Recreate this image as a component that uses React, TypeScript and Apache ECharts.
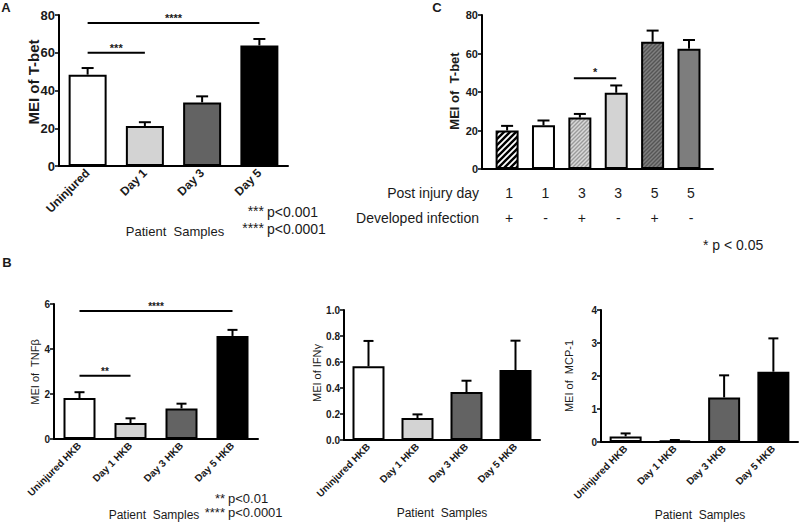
import React, { useEffect, useRef } from 'react';
import * as echarts from 'echarts';

// ---------- data ----------
const catsA = ['Uninjured', 'Day 1', 'Day 3', 'Day 5'];
const meanA = [48.4, 21.2, 33.7, 63.9];
const errA = [51.9, 23.2, 36.9, 67.3];
const sigA = [
  { from: 0, to: 1, y: 60, label: '***' },
  { from: 0, to: 3, y: 75.8, label: '****' },
];

const dayC = ['1', '1', '3', '3', '5', '5'];
const infC = ['+', '-', '+', '-', '+', '-'];
const meanC = [20.0, 22.7, 26.7, 39.6, 66.1, 62.5];
const errC = [22.4, 25.2, 28.6, 43.4, 71.9, 67.0];
const sigC = [{ from: 2, to: 3, y: 47.2, label: '*' }];

const catsB = ['Uninjured HKB', 'Day 1 HKB', 'Day 3 HKB', 'Day 5 HKB'];
const meanTNF = [1.82, 0.71, 1.36, 4.58];
const errTNF = [2.08, 0.92, 1.57, 4.85];
const sigTNF = [
  { from: 0, to: 1, y: 2.81, label: '**' },
  { from: 0, to: 3, y: 5.69, label: '****' },
];
const meanIFN = [0.567, 0.169, 0.369, 0.538];
const errIFN = [0.762, 0.197, 0.456, 0.764];
const meanMCP = [0.17, 0.04, 1.35, 2.13];
const errMCP = [0.26, 0.06, 2.02, 3.14];

// ---------- styles ----------
const FONT = '"Liberation Sans", Arial, Helvetica, sans-serif';
const TXT = '#1a1a1a';
const fillsABC = ['#ffffff', '#d3d3d3', '#636363', '#000000'];
// C: [background, stripe colour or null, tile size, stripe width]
const styleC: [string, string | null, number, number][] = [
  ['#ffffff', '#000000', 6, 2.4],
  ['#ffffff', null, 0, 0],
  ['#d8d8d8', '#9a9a9a', 4, 1.4],
  ['#d3d3d3', null, 0, 0],
  ['#808080', '#555555', 4, 1.4],
  ['#7d7d7d', null, 0, 0],
];

function hatch(bg: string, fg: string, s: number, w: number) {
  const c = document.createElement('canvas');
  c.width = s;
  c.height = s;
  const ctx = c.getContext('2d')!;
  ctx.fillStyle = bg;
  ctx.fillRect(0, 0, s, s);
  ctx.strokeStyle = fg;
  ctx.lineWidth = w;
  ctx.lineCap = 'square';
  ctx.beginPath();
  ctx.moveTo(0, s);
  ctx.lineTo(s, 0);
  ctx.moveTo(-1, 1);
  ctx.lineTo(1, -1);
  ctx.moveTo(s - 1, s + 1);
  ctx.lineTo(s + 1, s - 1);
  ctx.stroke();
  return { image: c, repeat: 'repeat' };
}

function catX(gridIndex: number, data: string[], fontSize: number) {
  return {
    type: 'category',
    gridIndex,
    data,
    axisLine: { lineStyle: { color: '#000', width: 2 } },
    axisTick: { alignWithLabel: true, length: 4, lineStyle: { color: '#000', width: 1.5 } },
    axisLabel: { rotate: 45, fontSize, fontWeight: 'bold', color: TXT, margin: 5, interval: 0, fontFamily: FONT },
    splitLine: { show: false },
  };
}

function valY(gridIndex: number, max: number, interval: number, fontSize: number, formatter?: any) {
  return {
    type: 'value',
    gridIndex,
    min: 0,
    max,
    interval,
    axisLine: { show: true, onZero: false, lineStyle: { color: '#000', width: 2 } },
    axisTick: { show: true, length: 4, lineStyle: { color: '#000', width: 1.5 } },
    axisLabel: { fontSize, fontWeight: 'bold', color: TXT, margin: 4, fontFamily: FONT, formatter },
    splitLine: { show: false },
  };
}

function barSeries(idx: number, means: number[], fills: string[], barWidth: number) {
  return {
    type: 'bar',
    xAxisIndex: idx,
    yAxisIndex: idx,
    barWidth,
    silent: true,
    data: means.map((v, i) => ({ value: v, itemStyle: { color: fills[i] } })),
    itemStyle: { borderColor: '#000', borderWidth: 2 },
  };
}

function errRender(capHalf: number) {
  return (params: any, api: any) => {
    const p1 = api.coord([api.value(0), api.value(1)]);
    const p2 = api.coord([api.value(0), api.value(2)]);
    return {
      type: 'group',
      children: [
        { type: 'line', shape: { x1: p1[0], y1: p1[1], x2: p2[0], y2: p2[1] }, style: { stroke: '#000', lineWidth: 2 } },
        { type: 'line', shape: { x1: p2[0] - capHalf, y1: p2[1], x2: p2[0] + capHalf, y2: p2[1] }, style: { stroke: '#000', lineWidth: 2 } },
      ],
    };
  };
}

function errSeries(idx: number, means: number[], errs: number[], capHalf: number) {
  return {
    type: 'custom',
    xAxisIndex: idx,
    yAxisIndex: idx,
    z: 5,
    silent: true,
    data: means.map((m, i) => [i, m, errs[i]]),
    encode: { x: 0, y: [1, 2] },
    renderItem: errRender(capHalf),
  };
}

function sigSeries(
  idx: number,
  sig: { from: number; to: number; y: number; label: string }[],
  fontSize: number,
  dxStart = 0,
  textDy = 1
) {
  return {
    type: 'custom',
    xAxisIndex: idx,
    yAxisIndex: idx,
    z: 6,
    silent: true,
    clip: false,
    data: sig.map((s) => [s.from, s.to, s.y]),
    encode: { x: [0, 1], y: 2 },
    renderItem: (params: any, api: any) => {
      const p1 = api.coord([api.value(0), api.value(2)]);
      const p2 = api.coord([api.value(1), api.value(2)]);
      const label = sig[params.dataIndex].label;
      return {
        type: 'group',
        children: [
          { type: 'line', shape: { x1: p1[0] + dxStart, y1: p1[1], x2: p2[0], y2: p2[1] }, style: { stroke: '#000', lineWidth: 2 } },
          {
            type: 'text',
            x: (p1[0] + dxStart + p2[0]) / 2,
            y: p1[1] + textDy,
            style: { text: label, fill: TXT, font: `bold ${fontSize}px ${FONT}`, textAlign: 'center', textVerticalAlign: 'bottom' },
          },
        ],
      };
    },
  };
}

function txt(text: string, x: number, y: number, size: number, opts: any = {}) {
  return {
    type: 'text',
    x,
    y,
    rotation: opts.rotation || 0,
    style: {
      text,
      fill: TXT,
      font: `${opts.bold ? 'bold ' : ''}${size}px ${FONT}`,
      textAlign: opts.align || 'center',
      textVerticalAlign: 'middle',
    },
    silent: true,
  };
}

export default function App() {
  const ref = useRef<HTMLDivElement>(null);
  useEffect(() => {
    if (!ref.current) return;
    const chart = echarts.init(ref.current, null, { renderer: 'svg' });
    const option: any = {
      animation: false,
      backgroundColor: '#ffffff',
      textStyle: { fontFamily: FONT },
      grid: [
        { left: 59, top: 15, width: 229, height: 151 },
        { left: 482, top: 15, width: 231, height: 154 },
        { left: 54, top: 304, width: 204, height: 135 },
        { left: 344, top: 310, width: 196, height: 130 },
        { left: 601, top: 310, width: 197, height: 132 },
      ],
      xAxis: [
        catX(0, catsA, 12),
        {
          type: 'value',
          gridIndex: 1,
          min: -0.69,
          max: 5.66,
          axisLine: { show: true, onZero: false, lineStyle: { color: '#000', width: 2 } },
          axisTick: { show: false },
          axisLabel: { show: false },
          splitLine: { show: false },
        },
        catX(2, catsB, 10),
        catX(3, catsB, 10),
        catX(4, catsB, 10),
      ],
      yAxis: [
        valY(0, 80, 20, 13),
        valY(1, 80, 20, 11),
        valY(2, 6, 2, 10),
        valY(3, 1, 0.2, 10, (v: number) => v.toFixed(1)),
        valY(4, 4, 1, 10),
      ],
      series: [
        barSeries(0, meanA, fillsABC, 38),
        errSeries(0, meanA, errA, 6),
        sigSeries(0, sigA, 11),
        {
          type: 'bar',
          xAxisIndex: 1,
          yAxisIndex: 1,
          barWidth: 23,
          silent: true,
          data: meanC.map((v, i) => {
            const [bg, fg, s, w] = styleC[i];
            return { value: [i, v], itemStyle: { color: fg ? hatch(bg, fg, s, w) : bg } };
          }),
          itemStyle: { borderColor: '#000', borderWidth: 2 },
        },
        {
          type: 'custom',
          xAxisIndex: 1,
          yAxisIndex: 1,
          z: 5,
          silent: true,
          data: meanC.map((m, i) => [i, m, errC[i]]),
          encode: { x: 0, y: [1, 2] },
          renderItem: errRender(6),
        },
        sigSeries(1, sigC, 11, -6, -1),
        {
          type: 'custom',
          xAxisIndex: 1,
          yAxisIndex: 1,
          z: 6,
          silent: true,
          clip: false,
          data: dayC.map((d, i) => [i, 0]),
          encode: { x: 0, y: 1 },
          renderItem: (params: any, api: any) => {
            const p = api.coord([api.value(0), 0]);
            const i = params.dataIndex;
            return {
              type: 'group',
              children: [
                { type: 'text', x: p[0] + 2, y: p[1] + 24, style: { text: dayC[i], fill: TXT, font: `14px ${FONT}`, textAlign: 'center', textVerticalAlign: 'middle' } },
                { type: 'text', x: p[0] + 2, y: p[1] + 49, style: { text: infC[i], fill: TXT, font: `14px ${FONT}`, textAlign: 'center', textVerticalAlign: 'middle' } },
              ],
            };
          },
        },
        barSeries(2, meanTNF, fillsABC, 32),
        errSeries(2, meanTNF, errTNF, 5),
        sigSeries(2, sigTNF, 10),
        barSeries(3, meanIFN, fillsABC, 32),
        errSeries(3, meanIFN, errIFN, 5),
        barSeries(4, meanMCP, fillsABC, 32),
        errSeries(4, meanMCP, errMCP, 5),
      ],
      graphic: [
        txt('A', 6, 7, 13, { bold: true }),
        txt('C', 437, 7, 13, { bold: true }),
        txt('B', 7, 262, 13, { bold: true }),
        txt('MEI of T-bet', 33, 82, 15, { bold: true, rotation: Math.PI / 2 }),
        txt('Patient  Samples', 175, 231, 13),
        txt('***', 264, 211, 14, { align: 'right' }),
        txt('p<0.001', 267, 212, 14, { align: 'left' }),
        txt('****', 264, 228, 14, { align: 'right' }),
        txt('p<0.0001', 267, 229, 14, { align: 'left' }),
        txt('MEI of  T-bet', 454, 91, 13, { bold: true, rotation: Math.PI / 2 }),
        txt('Post injury day', 479, 193, 14, { align: 'right' }),
        txt('Developed infection', 479, 218, 14, { align: 'right' }),
        txt('* p < 0.05', 703, 245, 14, { align: 'left' }),
        txt('MEI of  TNF\u03b2', 35, 372, 11, { rotation: Math.PI / 2 }),
        txt('MEI of IFN\u03b3', 317, 373, 11, { rotation: Math.PI / 2 }),
        txt('MEI of  MCP-1', 569, 376, 11, { rotation: Math.PI / 2 }),
        txt('Patient  Samples', 154, 515, 12),
        txt('Patient  Samples', 442, 513, 12),
        txt('Patient  Samples', 700, 515, 12),
        txt('**', 225, 498, 13, { align: 'right' }),
        txt('p<0.01', 228, 498, 13, { align: 'left' }),
        txt('****', 225, 512, 13, { align: 'right' }),
        txt('p<0.0001', 228, 512, 13, { align: 'left' }),
      ],
    };
    chart.setOption(option);
    return () => chart.dispose();
  }, []);
  return (
    <div
      ref={ref}
      style={{ position: 'fixed', left: 0, top: 0, width: 800, height: 522, background: '#fff' }}
    />
  );
}
